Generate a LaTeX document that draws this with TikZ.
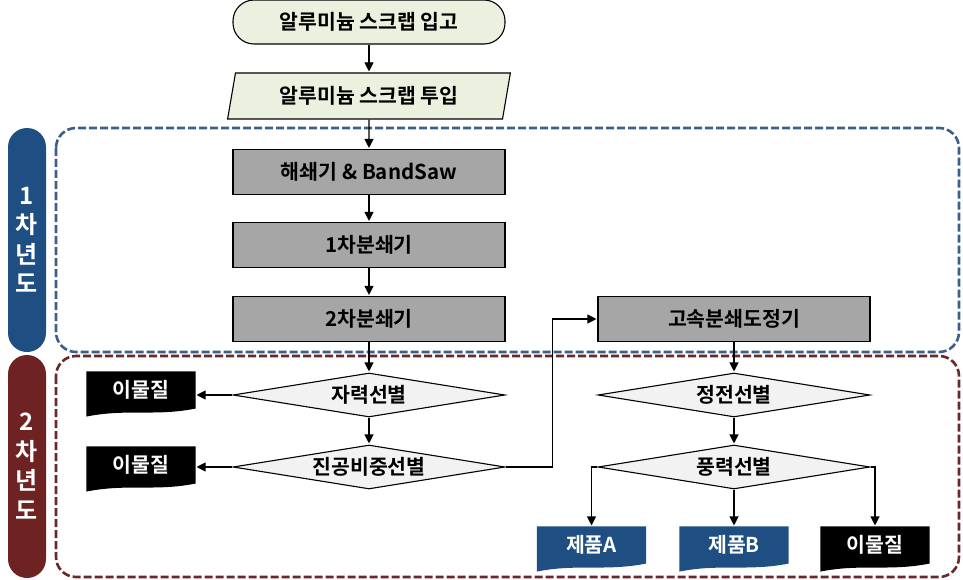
\documentclass[tikz,border=0pt]{standalone}
\usepackage{fontspec}
\newfontfamily\krfont{Noto Sans CJK KR Bold}
\usetikzlibrary{positioning,shapes.geometric,arrows.meta,backgrounds}
\definecolor{termfill}{HTML}{EBF1DE}
\definecolor{boxgray}{HTML}{A6A6A6}
\definecolor{diafill}{HTML}{F2F2F2}
\definecolor{yearblue}{HTML}{1F4E82}
\definecolor{yearred}{HTML}{6E2222}
\definecolor{dashblue}{HTML}{3A5F8A}
\definecolor{dashred}{HTML}{6B2828}
\definecolor{docblue}{HTML}{1F4E82}

\begin{document}
\begin{tikzpicture}[x=1pt,y=-1pt,->,>={Triangle[length=9pt,width=9pt]},shorten >=1pt,line width=1.1pt,node distance=74pt,
    every node/.style={font=\krfont\fontsize{20.5}{22}\selectfont},
    term node/.style={rectangle,rounded corners=21pt,draw,fill=termfill,minimum width=272pt,minimum height=44pt},
    input node/.style={trapezium,trapezium left angle=78,trapezium right angle=102,trapezium stretches=true,draw,fill=termfill,minimum width=283pt,minimum height=46pt},
    proc node/.style={rectangle,draw,fill=boxgray,minimum width=272pt,minimum height=45pt},
    dec node/.style={diamond,aspect=6.2,inner sep=0pt,draw,fill=diafill,minimum width=272pt,minimum height=44pt},
    doc node/.style={rectangle,inner sep=0pt,text=white,minimum width=108pt,minimum height=36pt},
    region/.style={-,rounded corners=20pt,line width=2.6pt,dash pattern=on 8pt off 3pt},
    year node/.style={text=white,align=center,font=\krfont\fontsize{24}{29.5}\selectfont}]
    \useasboundingbox (0,0) rectangle (963,580);

    % year regions
    \draw[region,dashblue] (56,128) rectangle (959,352);
    \draw[region,dashred] (56,356) rectangle (959,577);
    \fill[-,yearblue,rounded corners=19pt] (8,128) rectangle (46,352);
    \fill[-,yearred,rounded corners=19pt] (8,355) rectangle (46,578);
    \node[year node] (y1) at (27,240) {1\\차\\년\\도};
    \node[year node] (y2) at (27,466) {2\\차\\년\\도};

    \node[term node] (1) at (369,22) {알루미늄 스크랩 입고};
    \node[input node] (2) [below of=1] {알루미늄 스크랩 투입};
    \node[proc node] (3) [node distance=76pt,below of=2] {해쇄기 \& BandSaw};
    \node[proc node] (4) [node distance=73pt,below of=3] {1차분쇄기};
    \node[proc node] (5) [below of=4] {2차분쇄기};
    \node[dec node] (6) [node distance=76pt,below of=5] {자력선별};
    \node[dec node] (7) [node distance=72pt,below of=6] {진공비중선별};
    \node[proc node] (8) [node distance=365pt,right of=5] {고속분쇄도정기};
    \node[dec node] (9) [node distance=76pt,below of=8] {정전선별};
    \node[dec node] (10) [node distance=72pt,below of=9] {풍력선별};

    \node[doc node] (11) at (141,390) {이물질};
    \node[doc node] (12) at (141,465) {이물질};
    \node[doc node] (13) at (591.5,545) {제품A};
    \node[doc node] (14) at (734,545) {제품B};
    \node[doc node] (15) at (875,545) {이물질};

    \begin{scope}[on background layer]
        \foreach \n/\c in {11/black,12/black,13/docblue,14/docblue,15/black}
            \fill[-,\c] (\n.north west) -- (\n.north east) -- (\n.south east)
                .. controls +(-40pt,-8pt) and +(40pt,8pt) .. ([yshift=-8pt]\n.south west) -- cycle;
    \end{scope}

    \path
        (1) edge (2)
        (2) edge (3)
        (3) edge (4)
        (4) edge (5)
        (5) edge (6)
        (6) edge (7)
        (8) edge (9)
        (9) edge (10)
        (10) edge (14)
    ;
    \draw (6.west) -- (6.west -| 11.east);
    \draw (7.west) -- (7.west -| 12.east);
    \draw (7.east) -- ++(47pt,0) |- (8.west);
    \draw (10.west) -| (13.north);
    \draw (10.east) -| (15.north);
\end{tikzpicture}
\end{document}
